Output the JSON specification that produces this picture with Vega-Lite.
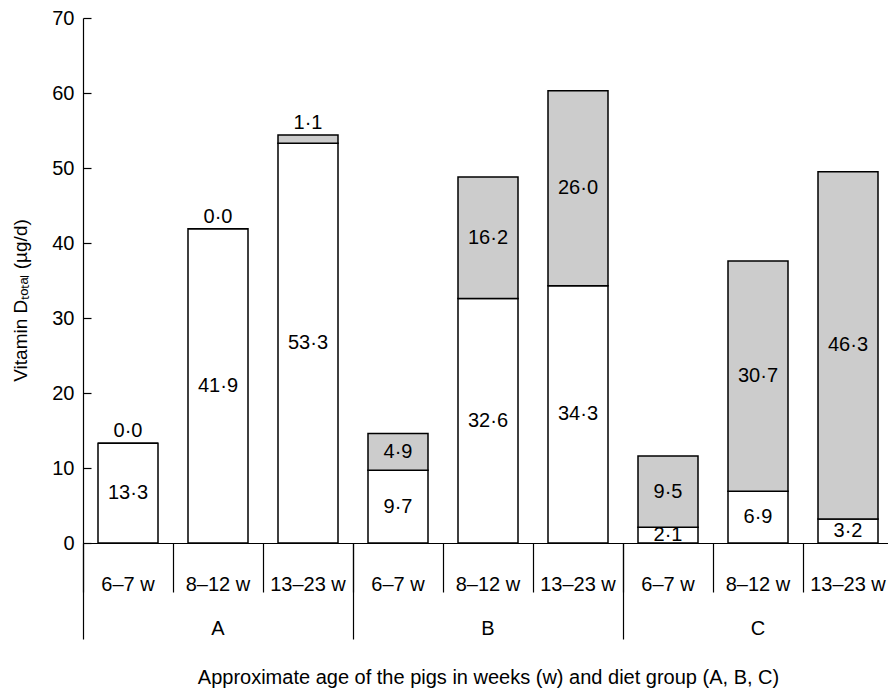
{
  "$schema": "https://vega.github.io/schema/vega-lite/v6.json",
  "width": 810,
  "height": 525,
  "autosize": {"type": "none"},
  "padding": {"left": 83, "top": 18, "right": 0, "bottom": 147},
  "background": "white",
  "config": {
    "view": {"stroke": null},
    "font": "Liberation Sans",
    "locale": {"number": {"decimal": "·", "thousands": ",", "grouping": [3], "currency": ["", ""]}},
    "axis": {
      "labelFont": "Liberation Sans",
      "titleFont": "Liberation Sans",
      "labelColor": "black",
      "titleColor": "black",
      "domainColor": "black",
      "tickColor": "black",
      "domainWidth": 1.2,
      "tickWidth": 1.2,
      "grid": false,
      "labelFontSize": 20,
      "titleFontSize": 20,
      "titleFontWeight": "normal",
      "labelOverlap": false,
      "labelBound": false
    }
  },
  "data": {
    "values": [
      {"group": "A", "age": "6–7 w", "component": "D3", "value": 13.3},
      {"group": "A", "age": "6–7 w", "component": "25OHD3", "value": 0.0},
      {"group": "A", "age": "8–12 w", "component": "D3", "value": 41.9},
      {"group": "A", "age": "8–12 w", "component": "25OHD3", "value": 0.0},
      {"group": "A", "age": "13–23 w", "component": "D3", "value": 53.3},
      {"group": "A", "age": "13–23 w", "component": "25OHD3", "value": 1.1},
      {"group": "B", "age": "6–7 w", "component": "D3", "value": 9.7},
      {"group": "B", "age": "6–7 w", "component": "25OHD3", "value": 4.9},
      {"group": "B", "age": "8–12 w", "component": "D3", "value": 32.6},
      {"group": "B", "age": "8–12 w", "component": "25OHD3", "value": 16.2},
      {"group": "B", "age": "13–23 w", "component": "D3", "value": 34.3},
      {"group": "B", "age": "13–23 w", "component": "25OHD3", "value": 26.0},
      {"group": "C", "age": "6–7 w", "component": "D3", "value": 2.1},
      {"group": "C", "age": "6–7 w", "component": "25OHD3", "value": 9.5},
      {"group": "C", "age": "8–12 w", "component": "D3", "value": 6.9},
      {"group": "C", "age": "8–12 w", "component": "25OHD3", "value": 30.7},
      {"group": "C", "age": "13–23 w", "component": "D3", "value": 3.2},
      {"group": "C", "age": "13–23 w", "component": "25OHD3", "value": 46.3}
    ]
  },
  "transform": [
    {"calculate": "datum.group + '|' + datum.age", "as": "key"},
    {"stack": "value", "groupby": ["key"], "sort": [{"field": "component", "order": "descending"}], "as": ["v0", "v1"]},
    {"calculate": "(datum.v0 + datum.v1) / 2", "as": "mid"}
  ],
  "layer": [
    {
      "mark": {"type": "bar", "width": {"band": 0.6667}, "stroke": "black", "strokeWidth": 1.5},
      "encoding": {
        "x": {
          "field": "key", "type": "nominal",
          "scale": {"domain": ["A|6–7 w", "A|8–12 w", "A|13–23 w", "B|6–7 w", "B|8–12 w", "B|13–23 w", "C|6–7 w", "C|8–12 w", "C|13–23 w"], "paddingInner": 0, "paddingOuter": 0},
          "axis": {
            "orient": "bottom",
            "title": null,
            "bandPosition": 0,
            "tickSize": 49,
            "labelExpr": "split(datum.value, '|')[1]",
            "labelOffset": 0,
            "labelPadding": -18,
            "labelAngle": 0
          }
        },
        "y": {
          "field": "v0", "type": "quantitative",
          "scale": {"domain": [0, 70], "nice": false},
          "axis": {
            "title": "Vitamin Dₜₒₜₐₗ (µg/d)",
            "titleFontSize": 19,
            "titleY": 282,
            "values": [0, 10, 20, 30, 40, 50, 60, 70],
            "tickSize": -8,
            "labelPadding": 17,
            "titlePadding": 21
          }
        },
        "y2": {"field": "v1"},
        "fill": {"field": "component", "type": "nominal", "scale": {"domain": ["D3", "25OHD3"], "range": ["#ffffff", "#cccccc"]}, "legend": null}
      }
    },
    {
      "transform": [{"filter": "!(datum.group === 'A' && datum.component === '25OHD3')"}],
      "mark": {"type": "text", "fontSize": 20, "baseline": "middle", "align": "center", "color": "black", "font": "Liberation Sans"},
      "encoding": {
        "x": {
          "field": "key", "type": "nominal",
          "scale": {"domain": ["A|6–7 w", "A|8–12 w", "A|13–23 w", "B|6–7 w", "B|8–12 w", "B|13–23 w", "C|6–7 w", "C|8–12 w", "C|13–23 w"], "paddingInner": 0, "paddingOuter": 0},
          "axis": {
            "orient": "bottom",
            "title": "Approximate age of the pigs in weeks (w) and diet group (A, B, C)",
            "bandPosition": 0,
            "values": ["A|6–7 w", "B|6–7 w", "C|6–7 w"],
            "tickSize": 96,
            "domain": false,
            "labelExpr": "split(datum.value, '|')[0]",
            "labelOffset": 90,
            "labelPadding": -21,
            "labelAngle": 0,
            "titlePadding": 28
          }
        },
        "y": {"field": "mid", "type": "quantitative"},
        "text": {"field": "value", "type": "quantitative", "format": ".1f"}
      }
    },
    {
      "transform": [{"filter": "datum.group === 'A' && datum.component === '25OHD3'"}],
      "mark": {"type": "text", "fontSize": 20, "baseline": "alphabetic", "align": "center", "dy": -6, "color": "black", "font": "Liberation Sans"},
      "encoding": {
        "x": {
          "field": "key", "type": "nominal",
          "scale": {"domain": ["A|6–7 w", "A|8–12 w", "A|13–23 w", "B|6–7 w", "B|8–12 w", "B|13–23 w", "C|6–7 w", "C|8–12 w", "C|13–23 w"], "paddingInner": 0, "paddingOuter": 0},
          "axis": null
        },
        "y": {"field": "v1", "type": "quantitative"},
        "text": {"field": "value", "type": "quantitative", "format": ".1f"}
      }
    }
  ],
  "resolve": {"axis": {"x": "independent"}}
}
